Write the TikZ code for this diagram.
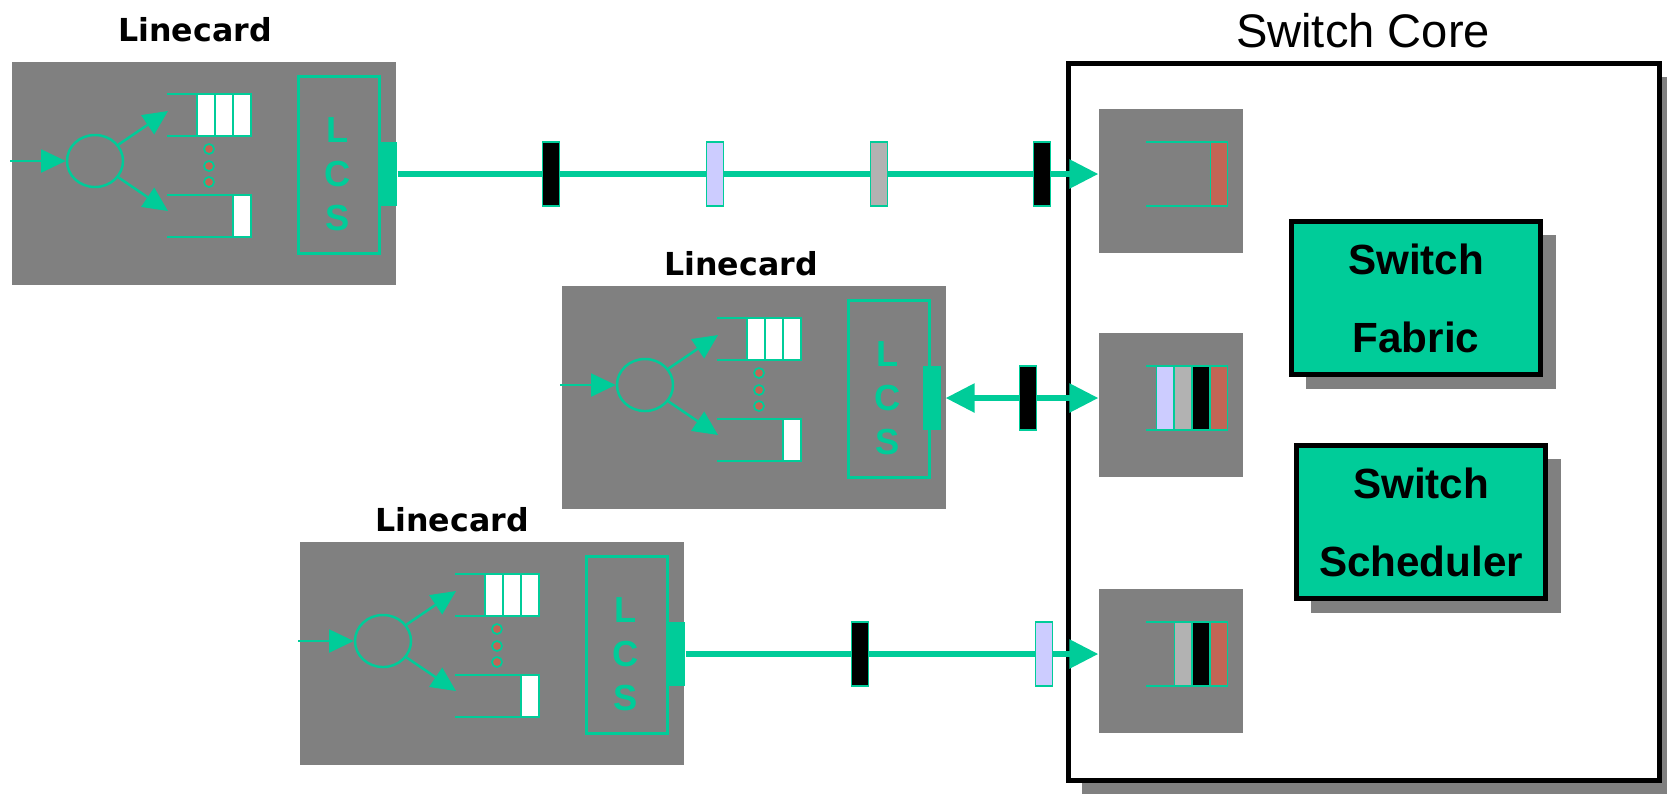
\documentclass[tikz,border=0pt]{standalone}
\usepackage{fontspec}
\setmainfont{Liberation Sans}
\newfontfamily\cardfont{DejaVu Sans}
\usetikzlibrary{arrows.meta,shapes.geometric,shadows}

\definecolor{lcgreen}{RGB}{0,204,153}
\definecolor{cardgray}{RGB}{128,128,128}
\definecolor{celllav}{RGB}{204,204,255}
\definecolor{cellgray}{RGB}{178,178,178}
\definecolor{cellred}{RGB}{194,101,85}

\begin{document}
\begin{tikzpicture}[x=0.01cm,y=-0.01cm,
  card/.style={fill=cardgray,minimum width=3.84cm,minimum height=2.23cm,inner sep=0,anchor=north west},
  cardtitle/.style={font=\cardfont\bfseries\fontsize{9}{11}\selectfont},
  greenline/.style={draw=lcgreen,line width=0.7pt},
  feed/.style={lcgreen,line width=0.7pt,-{Triangle[length=7pt,width=6.5pt]}},
  qcell/.style={draw=lcgreen,fill=white,line width=0.5pt,minimum width=0.18cm,minimum height=0.42cm,inner sep=0},
  qdot/.style={circle,draw=lcgreen,fill=cellred,line width=0.5pt,minimum size=0.1cm,inner sep=0},
  lcsbox/.style={draw=lcgreen,line width=0.7pt,minimum width=0.81cm,minimum height=1.77cm,inner sep=0},
  lcstext/.style={align=center,text=lcgreen,font=\bfseries\fontsize{10.3}{12.5}\selectfont,inner sep=0},
  port/.style={fill=lcgreen,minimum width=0.18cm,minimum height=0.64cm,inner sep=0},
  link/.style={lcgreen,line width=1.45pt},
  cell/.style={draw=lcgreen,line width=0.5pt,minimum width=0.17cm,minimum height=0.64cm,inner sep=0},
  portq/.style={fill=cardgray,minimum width=1.44cm,minimum height=1.44cm,inner sep=0},
  core/.style={draw,line width=1.4pt,fill=white,minimum width=5.91cm,minimum height=7.17cm,inner sep=0,
    drop shadow={shadow xshift=0.14cm,shadow yshift=-0.14cm,fill=cardgray,opacity=1}},
  unit/.style={draw,line width=1.4pt,fill=lcgreen,minimum width=2.49cm,minimum height=1.53cm,align=center,
    font=\bfseries\fontsize{12}{22.2}\selectfont,
    drop shadow={shadow xshift=0.15cm,shadow yshift=-0.14cm,fill=cardgray,opacity=1}}
]
  \clip (0,0) rectangle (1667,793);

  % switch core
  \node[core] (core) at (1364,422) {};
  \node[font=\fontsize{13.4}{16}\selectfont] (coretitle) at (1363,31) {Switch Core};
  \node[unit] (fabric) at (1416,298) {Switch\\Fabric};
  \node[unit] (sched) at (1421,522) {Switch\\Scheduler};
  \node[portq] (core1) at (1171,181) {};
  \node[portq] (core2) at (1171,405) {};
  \node[portq] (core3) at (1171,661) {};
  \foreach \y in {174,398,654}
    \draw[greenline] (1146,\y-32) -- (1228,\y-32) (1146,\y+32) -- (1228,\y+32);
  \node[cell,fill=cellred] (q1-4) at (1219,174) {};
  \node[cell,fill=cellred] (q2-4) at (1219,398) {};
  \node[cell,fill=black] (q2-3) at (1201,398) {};
  \node[cell,fill=cellgray] (q2-2) at (1183,398) {};
  \node[cell,fill=celllav] (q2-1) at (1165,398) {};
  \node[cell,fill=cellred] (q3-4) at (1219,654) {};
  \node[cell,fill=black] (q3-3) at (1201,654) {};
  \node[cell,fill=cellgray] (q3-2) at (1183,654) {};

  % linecards
  \foreach \n/\x/\y/\p in {a/11/61/377,b/561/285/371,c/299/541/377}{
    \begin{scope}[shift={(\x,\y)}]
      \node[card] (\n) at (0,0) {};
      \node[greenline,ellipse,minimum width=0.56cm,minimum height=0.52cm,inner sep=0] (\n-split) at (84,100) {};
      \coordinate (\n-in) at (-1,100);
      \coordinate (\n-up) at (157,50);
      \coordinate (\n-dn) at (157,150);
      \draw[feed] (\n-in) -- (\n-split);
      \draw[feed] (\n-split.35) -- (\n-up);
      \draw[feed] (\n-split.-35) -- (\n-dn);
      \draw[greenline] (156,33) -- (241,33) (156,75) -- (241,75)
        (156,134) -- (241,134) (156,176) -- (241,176);
      \node[qcell] (\n-c1) at (195,54) {};
      \node[qcell] (\n-c2) at (213,54) {};
      \node[qcell] (\n-c3) at (231,54) {};
      \node[qcell] (\n-c4) at (231,155) {};
      \node[qdot] (\n-d1) at (198,88) {};
      \node[qdot] (\n-d2) at (198,105) {};
      \node[qdot] (\n-d3) at (198,121) {};
      \node[lcsbox] (\n-lcs) at (328,104) {};
      \node[lcstext] (\n-lcsl) at (327,113) {L\\C\\S};
      \node[port] (\n-port) at (\p,113) {};
    \end{scope}
  }
  \node[cardtitle] (a-title) at (195,30) {Linecard};
  \node[cardtitle] (b-title) at (741,264) {Linecard};
  \node[cardtitle] (c-title) at (452,520) {Linecard};

  % links with cells in flight
  \draw[link,-{Triangle[length=8.2pt,width=8pt]}] (a-port.east) -- (core1.west |- a-port.east);
  \draw[link,{Triangle[length=8.2pt,width=8pt]}-{Triangle[length=8.2pt,width=8pt]}] ([xshift=0.04cm]b-port.east) -- (core2.west |- b-port.east);
  \draw[link,-{Triangle[length=8.2pt,width=8pt]}] (c-port.east) -- (core3.west |- c-port.east);
  \node[cell,fill=black] (l1-1) at (551,174) {};
  \node[cell,fill=celllav] (l1-2) at (715,174) {};
  \node[cell,fill=cellgray] (l1-3) at (879,174) {};
  \node[cell,fill=black] (l1-4) at (1042,174) {};
  \node[cell,fill=black] (l2-1) at (1028,398) {};
  \node[cell,fill=black] (l3-1) at (860,654) {};
  \node[cell,fill=celllav] (l3-2) at (1044,654) {};
\end{tikzpicture}
\end{document}
